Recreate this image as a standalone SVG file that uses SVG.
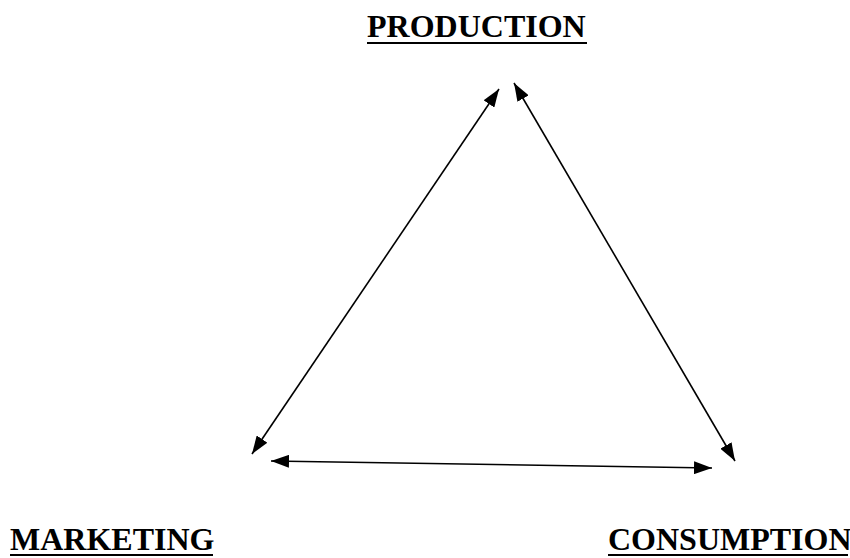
<svg xmlns="http://www.w3.org/2000/svg" width="850" height="558" viewBox="0 0 850 558">
<style>
.lbl{font-family:"Liberation Serif","Times New Roman",serif;font-weight:bold;font-size:32px;fill:#000}
.ul{stroke:#000;stroke-width:2}
.conn{stroke:#000;stroke-width:1.6;fill:none;marker-start:url(#ah);marker-end:url(#ah)}
</style>
<defs>
<marker id="ah" viewBox="0 0 18 13" refX="18" refY="6.5" markerWidth="18" markerHeight="13" markerUnits="userSpaceOnUse" orient="auto-start-reverse">
<path d="M0,0 L18,6.5 L0,13 Z" fill="#000"/>
</marker>
</defs>
<rect width="850" height="558" fill="#fff"/>
<g id="production">
<text class="lbl" x="367" y="37">PRODUCTION</text>
<line class="ul" x1="367" y1="43" x2="587" y2="43"/>
</g>
<g id="marketing">
<text class="lbl" x="10" y="550">MARKETING</text>
<line class="ul" x1="10" y1="555" x2="213" y2="555"/>
</g>
<g id="consumption">
<text class="lbl" x="608" y="550">CONSUMPTION</text>
<line class="ul" x1="608" y1="555" x2="848" y2="555"/>
</g>
<g id="connectors">
<line class="conn" x1="252" y1="454" x2="499" y2="89"/>
<line class="conn" x1="514" y1="83" x2="735" y2="461"/>
<line class="conn" x1="271" y1="461" x2="712" y2="468"/>
</g>
</svg>
